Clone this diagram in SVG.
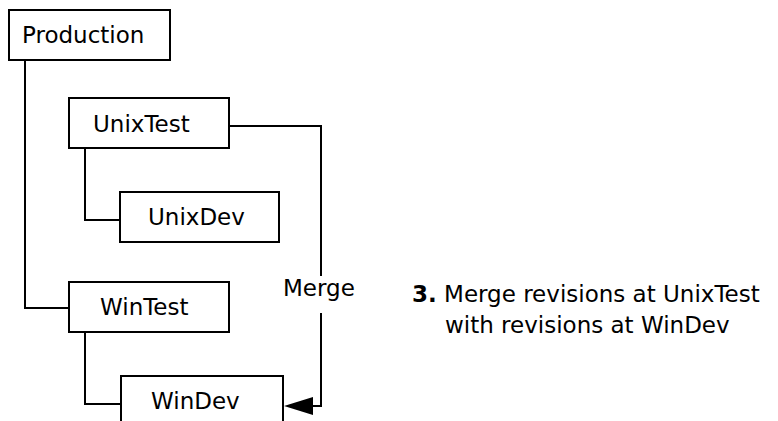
<svg xmlns="http://www.w3.org/2000/svg" width="778" height="421" viewBox="0 0 778 421">
<style>
.box{fill:#fff;stroke:#000;stroke-width:2}
.ln{fill:none;stroke:#000;stroke-width:2}
text{font-family:"DejaVu Sans",Verdana,sans-serif;font-size:23px;fill:#000}
</style>
<defs>
<marker id="arr" markerUnits="userSpaceOnUse" markerWidth="30" markerHeight="20" refX="29" refY="9" orient="auto" viewBox="0 0 30 18">
<path d="M0,0 L29,9 L0,18 Z" fill="#000"/>
</marker>
</defs>
<rect width="778" height="421" fill="#fff"/>
<g id="connectors">
<polyline class="ln" points="25,60 25,308 69,308"/>
<polyline class="ln" points="85,148 85,220 120,220"/>
<polyline class="ln" points="85,332 85,404 121,404"/>
<polyline class="ln" points="229,126 321,126 321,276"/>
<polyline class="ln" points="321,313 321,406 313,406"/>
<path d="M284,406 L313,397 L313,415 Z" fill="#000"/>
<text x="283" y="296">Merge</text>
</g>
<g id="production"><rect class="box" x="9" y="10" width="161" height="50"/><text x="22" y="43">Production</text></g>
<g id="unixtest"><rect class="box" x="69" y="98" width="160" height="50"/><text x="93" y="132">UnixTest</text></g>
<g id="unixdev"><rect class="box" x="120" y="192" width="159" height="50"/><text x="148" y="225">UnixDev</text></g>
<g id="wintest"><rect class="box" x="69" y="282" width="160" height="50"/><text x="100" y="315">WinTest</text></g>
<g id="windev"><rect class="box" x="121" y="376" width="162" height="60"/><text x="151" y="409">WinDev</text></g>
<g id="note">
<text x="412" y="302"><tspan font-weight="bold">3.</tspan> Merge revisions at UnixTest</text>
<text x="445" y="333">with revisions at WinDev</text>
</g>
</svg>
